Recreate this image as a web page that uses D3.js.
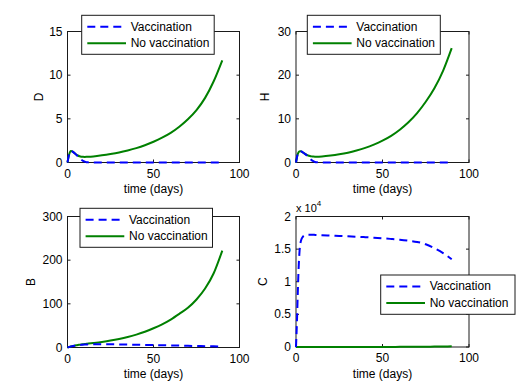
<!DOCTYPE html>
<html><head><meta charset="utf-8">
<script src="https://cdn.jsdelivr.net/npm/d3@7"></script>
<style>
html,body{margin:0;padding:0;background:#fff;}
svg{display:block;font-family:"Liberation Sans",Arial,Helvetica,sans-serif;}
</style></head>
<body>
<svg id="chart" width="519" height="391"></svg>
<script>
// ---------- data ----------
const time = [0,0.5,1,1.5,2,2.5,3,4,5,6,7,8,9,10,11,12,15,20,25,30,35,40,45,50,55,60,65,70,75,80,85,90];

const dNoVac = [0,0.55,0.95,1.22,1.32,1.3,1.24,1.08,0.92,0.8,0.72,0.67,0.645,0.64,0.645,0.655,0.7,0.82,0.97,1.15,1.38,1.65,1.98,2.38,2.85,3.4,4.1,4.95,6.0,7.4,9.3,11.7];
const dVac   = [0,0.55,0.95,1.22,1.32,1.3,1.24,1.08,0.9,0.7,0.5,0.32,0.19,0.1,0.04,0.015,0.005,0.003,0.003,0.003,0.003,0.003,0.003,0.003,0.003,0.003,0.003,0.003,0.003,0.003,0.003,0.003];

const hNoVac = [0,1.1,1.9,2.35,2.55,2.6,2.55,2.3,2.02,1.78,1.6,1.48,1.4,1.35,1.33,1.33,1.38,1.58,1.87,2.25,2.75,3.35,4.1,5.0,6.1,7.5,9.2,11.3,13.9,17.0,21.0,26.2];
const hVac   = [0,1.1,1.9,2.35,2.55,2.6,2.55,2.3,2.0,1.7,1.3,0.9,0.55,0.3,0.12,0.05,0.01,0.005,0.005,0.005,0.005,0.005,0.005,0.005,0.005,0.005,0.005,0.005,0.005,0.005,0.005,0.005];

const bNoVac = [0,0.6,1.2,1.8,2.3,2.8,3.3,4.2,5.0,5.7,6.3,6.9,7.4,7.9,8.4,8.9,10.3,12.8,15.8,19.5,24,29.5,36,44,53,64,77,91,110,135,170,222];
const bVac   = [0,0.6,1.2,1.8,2.3,2.8,3.3,4.1,4.8,5.3,5.8,6.2,6.5,6.8,7.0,7.2,7.5,7.5,7.3,7.0,6.7,6.3,5.9,5.5,5.1,4.7,4.3,3.9,3.5,3.1,2.7,2.3];

const cNoVac = [0,0,0,0,0,0,0,0,0,0,0,0,0,0,0,0,0,1,2,3,5,7,9,12,16,21,28,36,46,60,78,100];
const cVac   = [0,3500,8000,12000,14500,15800,16400,16900,17100,17150,17200,17200,17200,17200,17180,17170,17130,17080,17020,16960,16900,16830,16750,16660,16560,16450,16300,16100,15750,15150,14400,13450];

const xTicks = [0,50,100];
const dTicks = [0,5,10,15];
const hTicks = [0,10,20,30];
const bTicks = [0,100,200,300];
const cTicks = [0,5000,10000,15000,20000];
const cTickLabels = ["0","0.5","1","1.5","2"];

const seriesNames = ["Vaccination","No vaccination"];
const xLabel = "time (days)";

// ---------- layout ----------
const panels = [
  {name:"D", vac:dVac, noVac:dNoVac, ymax:15, ticks:dTicks, labels:null,
   x:67.5, y:31.5, w:172, h:131, ylabX:39, leg:{x:81.7, y:15.3, w:132.5, h:39}},
  {name:"H", vac:hVac, noVac:hNoVac, ymax:30, ticks:hTicks, labels:null,
   x:296, y:31.5, w:173, h:131, ylabX:265, leg:{x:307.3, y:15.3, w:133, h:39}},
  {name:"B", vac:bVac, noVac:bNoVac, ymax:300, ticks:bTicks, labels:null,
   x:67.5, y:216.5, w:172, h:131, ylabX:31, leg:{x:80, y:208.3, w:132.5, h:39}},
  {name:"C", vac:cVac, noVac:cNoVac, ymax:20000, ticks:cTicks, labels:cTickLabels,
   x:296, y:216.5, w:173, h:130.5, ylabX:263, leg:{x:380.7, y:275, w:134.3, h:39.3}, exp:true}
];

const svg = d3.select("#chart");
const BLUE = "#0000ff", GREEN = "#008000", AX = "#1a1a1a";
const FS = 12, TL = 3;

panels.forEach(p => {
  const x = d3.scaleLinear().domain([0,100]).range([p.x, p.x + p.w]);
  const y = d3.scaleLinear().domain([0,p.ymax]).range([p.y + p.h, p.y]);
  const g = svg.append("g");

  // box
  g.append("rect").attr("x", p.x).attr("y", p.y).attr("width", p.w).attr("height", p.h)
    .attr("fill", "#fff").attr("stroke", AX).attr("stroke-width", 1);

  // x ticks (bottom & top, inward)
  xTicks.forEach(t => {
    const xx = x(t);
    g.append("line").attr("x1", xx).attr("x2", xx).attr("y1", p.y + p.h).attr("y2", p.y + p.h - TL).attr("stroke", AX);
    g.append("line").attr("x1", xx).attr("x2", xx).attr("y1", p.y).attr("y2", p.y + TL).attr("stroke", AX);
    g.append("text").attr("x", xx).attr("y", p.y + p.h + 11).attr("text-anchor", "middle")
      .attr("dominant-baseline", "central").attr("font-size", FS).text(t);
  });
  // y ticks (left & right, inward)
  p.ticks.forEach((t, i) => {
    const yy = y(t);
    g.append("line").attr("x1", p.x).attr("x2", p.x + TL).attr("y1", yy).attr("y2", yy).attr("stroke", AX);
    g.append("line").attr("x1", p.x + p.w).attr("x2", p.x + p.w - TL).attr("y1", yy).attr("y2", yy).attr("stroke", AX);
    g.append("text").attr("x", p.x - 5).attr("y", yy).attr("text-anchor", "end")
      .attr("dominant-baseline", "central").attr("font-size", FS).text(p.labels ? p.labels[i] : t);
  });

  // labels
  g.append("text").attr("x", p.x + p.w / 2).attr("y", p.y + p.h + 26.5).attr("text-anchor", "middle")
    .attr("dominant-baseline", "central").attr("font-size", FS).text(xLabel);
  g.append("text").attr("transform", `translate(${p.ylabX},${p.y + p.h / 2}) rotate(-90)`)
    .attr("text-anchor", "middle").attr("dominant-baseline", "central").attr("font-size", FS).text(p.name);

  if (p.exp) {
    const t = g.append("text").attr("x", p.x).attr("y", p.y - 9).attr("dominant-baseline", "central").attr("font-size", 11);
    t.append("tspan").text("x 10");
    t.append("tspan").attr("dy", -5).attr("font-size", 8).text("4");
  }

  // lines
  const line = arr => d3.line().x((d, i) => x(time[i])).y(d => y(d)).curve(d3.curveMonotoneX)(arr);
  g.append("path").attr("d", line(p.noVac)).attr("fill", "none").attr("stroke", GREEN).attr("stroke-width", 2);
  g.append("path").attr("d", line(p.vac)).attr("fill", "none").attr("stroke", BLUE).attr("stroke-width", 2)
    .attr("stroke-dasharray", "8,5");

  // legend
  const L = p.leg;
  const lg = svg.append("g");
  lg.append("rect").attr("x", L.x).attr("y", L.y).attr("width", L.w).attr("height", L.h)
    .attr("fill", "#fff").attr("stroke", AX).attr("stroke-width", 1);
  const rows = [L.y + 11.4, L.y + 28];
  [[BLUE, "8,5"], [GREEN, null]].forEach((s, i) => {
    const ln = lg.append("line").attr("x1", L.x + 5.6).attr("x2", L.x + 44.3).attr("y1", rows[i]).attr("y2", rows[i])
      .attr("stroke", s[0]).attr("stroke-width", 2);
    if (s[1]) ln.attr("stroke-dasharray", s[1]);
    lg.append("text").attr("x", L.x + 49).attr("y", rows[i]).attr("dominant-baseline", "central")
      .attr("font-size", FS).text(seriesNames[i]);
  });
});
</script>
</body></html>
